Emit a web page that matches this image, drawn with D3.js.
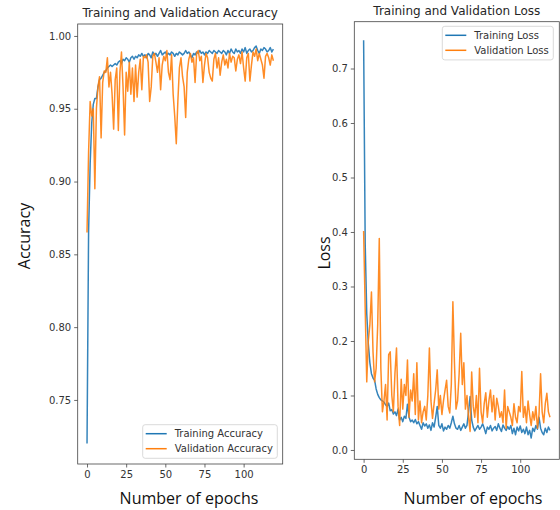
<!DOCTYPE html>
<html><head><meta charset="utf-8">
<script src="https://cdn.jsdelivr.net/npm/d3@7"></script>
<style>html,body{margin:0;padding:0;background:#fff;} svg{display:block;}</style>
</head><body>
<svg id="chart" width="560" height="510"></svg>
<script>
const epochs = d3.range(120);
const trainAcc = [0.720,0.865,0.912,0.940,0.953,0.957,0.957,0.965,0.970,0.971,
0.973,0.975,0.976,0.978,0.979,0.980,0.979,0.980,0.981,0.980,
0.982,0.983,0.981,0.984,0.983,0.985,0.984,0.982,0.985,0.986,
0.984,0.986,0.985,0.987,0.986,0.988,0.986,0.987,0.985,0.988,
0.987,0.985,0.989,0.987,0.988,0.986,0.988,0.990,0.987,0.988,
0.989,0.987,0.988,0.987,0.989,0.988,0.986,0.988,0.987,0.989,
0.988,0.987,0.988,0.990,0.988,0.989,0.987,0.985,0.988,0.987,
0.989,0.988,0.990,0.988,0.989,0.987,0.989,0.988,0.990,0.989,
0.988,0.990,0.989,0.988,0.990,0.989,0.988,0.990,0.989,0.987,
0.990,0.988,0.991,0.989,0.988,0.991,0.989,0.990,0.988,0.991,
0.989,0.992,0.988,0.990,0.991,0.989,0.990,0.992,0.993,0.990,
0.988,0.991,0.990,0.992,0.991,0.989,0.990,0.992,0.989,0.991];
const valAcc = [0.865,0.920,0.955,0.945,0.950,0.895,0.950,0.965,0.972,0.930,
0.968,0.976,0.975,0.985,0.965,0.975,0.960,0.936,0.970,0.978,
0.935,0.975,0.989,0.965,0.932,0.975,0.962,0.982,0.960,0.978,
0.955,0.980,0.958,0.975,0.984,0.963,0.986,0.985,0.987,0.982,
0.955,0.965,0.986,0.988,0.982,0.975,0.985,0.963,0.980,0.986,
0.983,0.990,0.975,0.970,0.987,0.960,0.945,0.926,0.955,0.978,
0.985,0.972,0.965,0.944,0.975,0.984,0.988,0.982,0.985,0.968,
0.988,0.990,0.983,0.986,0.968,0.980,0.988,0.985,0.975,0.971,
0.969,0.984,0.988,0.978,0.985,0.973,0.982,0.987,0.980,0.984,
0.978,0.988,0.982,0.986,0.985,0.976,0.984,0.987,0.981,0.989,
0.978,0.969,0.985,0.988,0.969,0.980,0.989,0.986,0.991,0.983,
0.988,0.984,0.980,0.971,0.986,0.988,0.985,0.980,0.987,0.983];
const trainLoss = [0.752,0.380,0.250,0.195,0.160,0.140,0.132,0.128,0.112,0.102,
0.096,0.092,0.090,0.088,0.083,0.080,0.086,0.072,0.074,0.066,
0.070,0.063,0.075,0.055,0.060,0.052,0.062,0.058,0.084,0.060,
0.052,0.055,0.050,0.056,0.048,0.052,0.045,0.038,0.050,0.044,
0.048,0.040,0.046,0.036,0.050,0.042,0.060,0.080,0.045,0.040,
0.048,0.035,0.042,0.038,0.045,0.040,0.050,0.062,0.048,0.040,
0.038,0.045,0.036,0.042,0.048,0.040,0.045,0.070,0.098,0.055,
0.042,0.035,0.040,0.045,0.038,0.042,0.048,0.040,0.030,0.042,
0.038,0.045,0.035,0.040,0.043,0.036,0.048,0.040,0.034,0.046,
0.040,0.036,0.043,0.038,0.045,0.030,0.040,0.028,0.042,0.035,
0.044,0.032,0.038,0.030,0.042,0.028,0.036,0.022,0.040,0.034,
0.045,0.038,0.060,0.040,0.032,0.028,0.040,0.032,0.042,0.036];
const valLoss = [0.402,0.260,0.125,0.200,0.230,0.290,0.180,0.125,0.150,0.230,
0.388,0.150,0.070,0.090,0.120,0.055,0.175,0.180,0.100,0.070,
0.140,0.187,0.080,0.045,0.130,0.075,0.120,0.100,0.165,0.060,
0.110,0.090,0.140,0.065,0.160,0.055,0.090,0.050,0.070,0.080,
0.055,0.100,0.187,0.090,0.058,0.085,0.110,0.147,0.075,0.100,
0.065,0.090,0.110,0.128,0.080,0.068,0.120,0.272,0.160,0.075,
0.090,0.140,0.214,0.120,0.160,0.075,0.100,0.060,0.034,0.143,
0.080,0.060,0.100,0.050,0.150,0.070,0.050,0.085,0.105,0.060,
0.090,0.110,0.070,0.100,0.055,0.095,0.080,0.060,0.070,0.050,
0.110,0.040,0.080,0.070,0.060,0.045,0.085,0.060,0.050,0.080,
0.070,0.144,0.060,0.080,0.050,0.090,0.065,0.045,0.070,0.055,
0.080,0.040,0.065,0.140,0.070,0.050,0.085,0.104,0.070,0.060];

const xTicks = [0,25,50,75,100];
const accTicks = [0.75,0.80,0.85,0.90,0.95,1.00];
const lossTicks = [0.0,0.1,0.2,0.3,0.4,0.5,0.6,0.7];
const accTitle = "Training and Validation Accuracy";
const lossTitle = "Training and Validation Loss";
const accLabels = ["Training Accuracy","Validation Accuracy"];
const lossLabels = ["Training Loss","Validation Loss"];
const xLabel = "Number of epochs";

const BLUE = "#1f77b4", ORANGE = "#ff7f0e";
const svg = d3.select("#chart");

function panel(o){
  const x = d3.scaleLinear().domain([-5.95,124.95]).range([o.left,o.right]);
  const y = d3.scaleLinear().domain(o.yDomain).range([o.bottom,o.top]);
  const g = svg.append("g");
  const clipId = "clip"+o.id;
  svg.append("clipPath").attr("id",clipId).append("rect")
    .attr("x",o.left).attr("y",o.top).attr("width",o.right-o.left).attr("height",o.bottom-o.top);
  const line = d3.line().x((d,i)=>x(epochs[i])).y(d=>y(d));
  const lg = g.append("g").attr("clip-path",`url(#${clipId})`);
  o.series.forEach((s,k)=>{
    lg.append("path").datum(s).attr("d",line).attr("fill","none")
      .attr("stroke",[BLUE,ORANGE][k]).attr("stroke-width",1.5).attr("stroke-linejoin","round")
      .attr("opacity",0.9);
  });
  const xa = g.append("g").attr("transform",`translate(0,${o.bottom})`)
    .call(d3.axisBottom(x).tickValues(xTicks).tickSize(3.5).tickPadding(3).tickFormat(d3.format("d")));
  const ya = g.append("g").attr("transform",`translate(${o.left},0)`)
    .call(d3.axisLeft(y).tickValues(o.yTicks).tickSize(3.5).tickPadding(3).tickFormat(d3.format(o.fmt)));
  [xa,ya].forEach(a=>{
    a.select(".domain").remove();
    a.selectAll("line").attr("stroke","#444").attr("stroke-width",0.8);
    a.selectAll("text").attr("fill","#333").attr("font-family","DejaVu Sans").attr("font-size",10);
  });
  g.append("rect").attr("x",o.left).attr("y",o.top).attr("width",o.right-o.left).attr("height",o.bottom-o.top)
    .attr("fill","none").attr("stroke","#444").attr("stroke-width",0.8);
  g.append("text").attr("x",(o.left+o.right)/2).attr("y",o.top-7).attr("text-anchor","middle")
    .attr("font-family","DejaVu Sans").attr("font-size",12).attr("fill","#262626").text(o.title);
  g.append("text").attr("transform",`translate(${o.ylx},${o.yly}) rotate(-90)`).attr("text-anchor","middle")
    .attr("font-family","Open Sans").attr("font-size",16).attr("fill","#111").text(o.ylabel);
  g.append("text").attr("x",o.xlx).attr("y",504).attr("text-anchor","middle")
    .attr("font-family","Open Sans").attr("font-size",16).attr("fill","#111").text(xLabel);
  // legend
  const L = o.legend;
  const lgd = g.append("g");
  lgd.append("rect").attr("x",L.x).attr("y",L.y).attr("width",L.w).attr("height",L.h).attr("rx",2.5)
    .attr("fill","#fff").attr("fill-opacity",0.8).attr("stroke","#d0d0d0").attr("stroke-width",0.8);
  o.labels.forEach((t,k)=>{
    const yy = L.y + 9 + k*15;
    lgd.append("line").attr("x1",L.x+3).attr("x2",L.x+24).attr("y1",yy).attr("y2",yy)
      .attr("stroke",[BLUE,ORANGE][k]).attr("stroke-width",1.5);
    lgd.append("text").attr("x",L.x+32).attr("y",yy+3.5).attr("font-family","DejaVu Sans")
      .attr("font-size",10).attr("fill","#333").text(t);
  });
}

panel({id:"a",left:77.7,right:282.7,top:24,bottom:464,yDomain:[0.706,1.0082],yTicks:accTicks,fmt:".2f",
  series:[trainAcc,valAcc],title:accTitle,ylabel:"Accuracy",ylx:30,yly:236,xlx:189,
  labels:accLabels,legend:{x:142.7,y:424.7,w:134.6,h:33.6}});
panel({id:"l",left:354.3,right:559.3,top:21.7,bottom:459.3,yDomain:[-0.0171,0.7859],yTicks:lossTicks,fmt:".1f",
  series:[trainLoss,valLoss],title:lossTitle,ylabel:"Loss",ylx:330,yly:253,xlx:473,
  labels:lossLabels,legend:{x:442.3,y:26.3,w:111,h:33.6}});
</script>
</body></html>
